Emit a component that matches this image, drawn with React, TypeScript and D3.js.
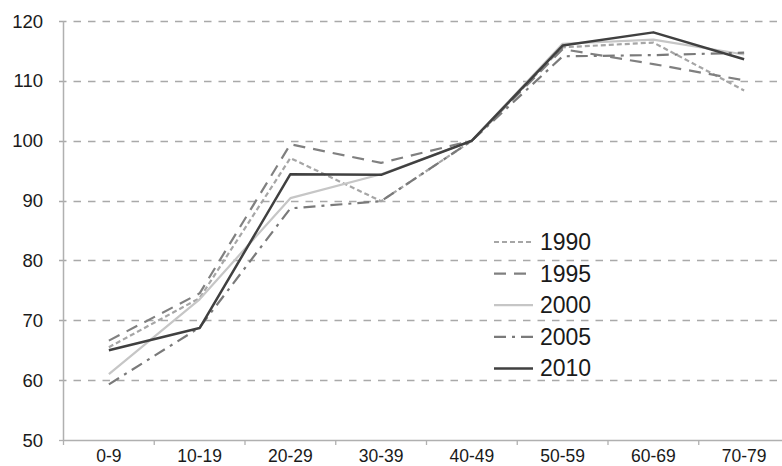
import React from "react";
import * as d3 from "d3";

const categories = ["0-9", "10-19", "20-29", "30-39", "40-49", "50-59", "60-69", "70-79"];
const years = ["1990", "1995", "2000", "2005", "2010"];
const s1990 = [65.5, 73.7, 97.1, 89.9, 100, 115.6, 116.4, 108.4];
const s1995 = [66.6, 74.5, 99.4, 96.3, 100, 115.3, 112.8, 110.1];
const s2000 = [61.0, 73.5, 90.4, 94.4, 100, 116.2, 116.9, 114.4];
const s2005 = [59.3, 68.8, 88.7, 89.9, 100, 114.1, 114.3, 114.7];
const s2010 = [65.0, 68.7, 94.4, 94.3, 100, 115.9, 118.1, 113.6];
const yTicks = [50, 60, 70, 80, 90, 100, 110, 120];

const seriesValues = [s1990, s1995, s2000, s2005, s2010];
const styles = [
  { color: "#a6a6a6", dash: "5,3", width: 2.2 },
  { color: "#808080", dash: "12,8", width: 2.2 },
  { color: "#c6c6c6", dash: "", width: 2.2 },
  { color: "#7a7a7a", dash: "12,6,3,6", width: 2.2 },
  { color: "#404040", dash: "", width: 2.5 },
];

export default function App() {
  const W = 782, H = 466;
  const left = 63.5, top = 21, bottom = 440;
  const bandW = 90.75;
  const x = d3.scaleBand().domain(categories).range([left, left + bandW * categories.length]).paddingInner(0).paddingOuter(0);
  const y = d3.scaleLinear().domain([50, 120]).range([bottom, top]);
  const right = left + bandW * categories.length;
  const line = d3.line<number>()
    .x((_, i) => (x(categories[i]) as number) + x.bandwidth() / 2)
    .y((d) => y(d));
  const font = "'Liberation Sans', Arial, sans-serif";
  const legendX1 = 494, legendX2 = 533, legendY0 = 242, legendStep = 31.6;

  return (
    <svg width={W} height={H} style={{ position: "absolute", left: 0, top: 0 }} fontFamily={font}>
      <rect x={0} y={0} width={W} height={H} fill="#fff" />
      {yTicks.filter((t) => t !== 50).map((t) => (
        <line key={"g" + t} x1={59} x2={right} y1={Math.round(y(t)) + 0.5} y2={Math.round(y(t)) + 0.5}
          stroke="#a9a9a9" strokeWidth={1.3} strokeDasharray="7.5,7" />
      ))}
      <line x1={59} x2={left} y1={bottom + 0.5} y2={bottom + 0.5} stroke="#b0b0b0" strokeWidth={1.3} />
      <line x1={left} x2={right} y1={bottom + 0.5} y2={bottom + 0.5} stroke="#b0b0b0" strokeWidth={1.5} />
      <line x1={left} x2={left} y1={top} y2={bottom} stroke="#b0b0b0" strokeWidth={1.5} />
      {d3.range(categories.length + 1).map((i) => (
        <line key={"xt" + i} x1={left + i * bandW} x2={left + i * bandW} y1={bottom} y2={bottom + 5}
          stroke="#b0b0b0" strokeWidth={1.3} />
      ))}
      {yTicks.map((t) => (
        <text key={"yl" + t} x={43} y={y(t)} textAnchor="end" dominantBaseline="central" fontSize={18.5} fill="#1a1a1a">{t}</text>
      ))}
      {categories.map((c) => (
        <text key={"xl" + c} x={(x(c) as number) + x.bandwidth() / 2} y={462} textAnchor="middle" fontSize={17.5} fill="#1a1a1a">{c}</text>
      ))}
      {seriesValues.map((vals, i) => (
        <path key={"s" + i} d={line(vals) || ""} fill="none" stroke={styles[i].color} strokeWidth={styles[i].width}
          strokeDasharray={styles[i].dash || undefined} strokeLinejoin="round" />
      ))}
      {years.map((yr, i) => (
        <g key={"lg" + yr}>
          <line x1={legendX1} x2={legendX2} y1={legendY0 + i * legendStep} y2={legendY0 + i * legendStep}
            stroke={styles[i].color} strokeWidth={styles[i].width} strokeDasharray={styles[i].dash || undefined} />
          <text x={540} y={legendY0 + i * legendStep} dominantBaseline="central" fontSize={23} fill="#1a1a1a">{yr}</text>
        </g>
      ))}
    </svg>
  );
}
